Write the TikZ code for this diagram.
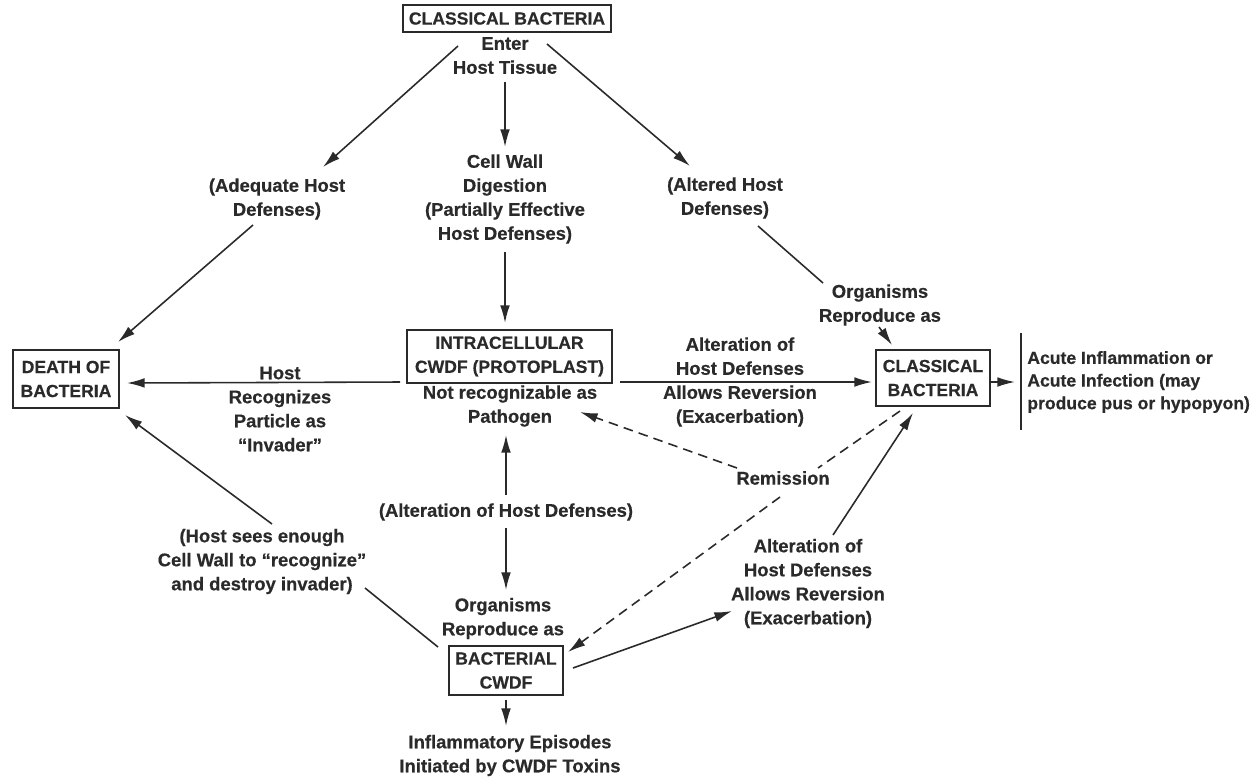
\documentclass[tikz,border=0pt]{standalone}
\usepackage{fontspec}
\setmainfont{Liberation Sans}[BoldFeatures={FakeBold=0.5}]
\usetikzlibrary{arrows.meta}
\definecolor{ink}{RGB}{42,42,42}
\begin{document}
\begin{tikzpicture}[x=0.02cm,y=-0.02cm,
  every node/.style={font=\fontsize{10.5}{13.66}\selectfont\bfseries, text=ink, align=center, inner sep=0pt},
  box/.style={draw=ink, line width=1pt, font=\fontsize{10}{13.66}\selectfont\bfseries},
  conn/.style={draw=ink, line width=0.9pt},
  arr/.style={conn, -{Latex[length=10pt,width=5.5pt]}},
  darr/.style={arr, dash pattern=on 5.5pt off 3.5pt},
  dline/.style={conn, dash pattern=on 5.5pt off 3.5pt}]
\useasboundingbox (0,0) rectangle (1254,779);
% boxes
\node[box, minimum width=4.16cm, minimum height=0.54cm] (top) at (507,18.5) {CLASSICAL BACTERIA};
\node[box, minimum width=2.12cm, minimum height=1.16cm] (death) at (66,379) {DEATH OF\\BACTERIA};
\node[box, minimum width=4.1cm, minimum height=1.06cm] (intra) at (509.5,356.5) {INTRACELLULAR\\CWDF (PROTOPLAST)};
\node[box, minimum width=2.28cm, minimum height=1.12cm] (classical) at (933,378) {CLASSICAL\\BACTERIA};
\node[box, minimum width=2.28cm, minimum height=0.98cm] (bact) at (506,670.5) {BACTERIAL\\CWDF};
% labels
\node (enter) at (505,55.5) {Enter\\Host Tissue};
\node (adeq) at (277,199) {(Adequate Host\\Defenses)};
\node (cellwall) at (505,199) {Cell Wall\\Digestion\\(Partially Effective\\Host Defenses)};
\node (altered) at (725,198) {(Altered Host\\Defenses)};
\node (hostrec) at (280,409) {Host\\Recognizes\\Particle as\\``Invader''};
\node (notrec) at (510,406) {Not recognizable as\\Pathogen};
\node (alt1) at (740,382) {Alteration of\\Host Defenses\\Allows Reversion\\(Exacerbation)};
\node (org1) at (880,305) {Organisms\\Reproduce as};
\node[anchor=west, inner xsep=0.12cm, inner ysep=0pt, align=left, font=\fontsize{10}{12.9}\selectfont\bfseries] (acute) at (1021,382) {Acute Inflammation or\\Acute Infection (may\\produce pus or hypopyon)};
\node (altlow) at (506,512) {(Alteration of Host Defenses)};
\node (org2) at (503,618.5) {Organisms\\Reproduce as};
\node (infl) at (510,755.5) {Inflammatory Episodes\\Initiated by CWDF Toxins};
\node (hostsees) at (262,561.5) {(Host sees enough\\Cell Wall to ``recognize''\\and destroy invader)};
\node (remission) at (783,478) {Remission};
\node (alt2) at (808,583.5) {Alteration of\\Host Defenses\\Allows Reversion\\(Exacerbation)};
% connectors
\draw[arr] ([shift={(-47,-9.5)}]enter.center) -- ([shift={(46,-32)}]adeq.center);
\draw[arr] ([shift={(0,26.5)}]enter.center) -- ([shift={(0,-52)}]cellwall.center);
\draw[arr] ([shift={(42,-11.5)}]enter.center) -- ([shift={(-35,-32)}]altered.center);
\draw[arr] ([shift={(-24,26)}]adeq.center) -- ([shift={(52,-37)}]death.center);
\draw[arr] ([shift={(0,53)}]cellwall.center) -- ([shift={(-4.5,-33.5)}]intra.center);
\draw[conn] ([shift={(33,28)}]altered.center) -- ([shift={(-57,-22)}]org1.center);
\draw[arr] ([shift={(-1,22)}]org1.center) -- ([shift={(-41,-33)}]classical.center);
\draw[arr] ([shift={(-109.5,25.5)}]intra.center) -- ([shift={(61,4)}]death.center);
\draw[arr] ([shift={(110.5,25.5)}]intra.center) -- ([shift={(-61,4)}]classical.center);
\draw[arr] ([shift={(57,4)}]classical.center) -- ([shift={(-6,0)}]acute.west);
\draw[conn] ([shift={(0,-49)}]acute.west) -- ([shift={(0,48)}]acute.west);
\draw[arr] ([shift={(0,-17)}]altlow.center) -- ([shift={(-4,29)}]notrec.center);
\draw[arr] ([shift={(0,16)}]altlow.center) -- ([shift={(3,-28.5)}]org2.center);
\draw[arr] ([shift={(0,29.5)}]bact.center) -- ([shift={(-4,-29.5)}]infl.center);
\draw[arr] ([shift={(10,-37.5)}]hostsees.center) -- ([shift={(59,36)}]death.center);
\draw[conn] ([shift={(103,26.5)}]hostsees.center) -- ([shift={(-68,-23.5)}]bact.center);
\draw[arr] ([shift={(67,-2.5)}]bact.center) -- ([shift={(-76,27.5)}]alt2.center);
\draw[arr] ([shift={(25,-48.5)}]alt2.center) -- ([shift={(-20,35)}]classical.center);
\draw[dline] ([shift={(-33,33)}]classical.center) -- ([shift={(35,-10)}]remission.center);
\draw[darr] ([shift={(-3,19)}]remission.center) -- ([shift={(62,-18.5)}]bact.center);
\draw[darr] ([shift={(-46,-10)}]remission.center) -- ([shift={(70,6)}]notrec.center);
\end{tikzpicture}
\end{document}
